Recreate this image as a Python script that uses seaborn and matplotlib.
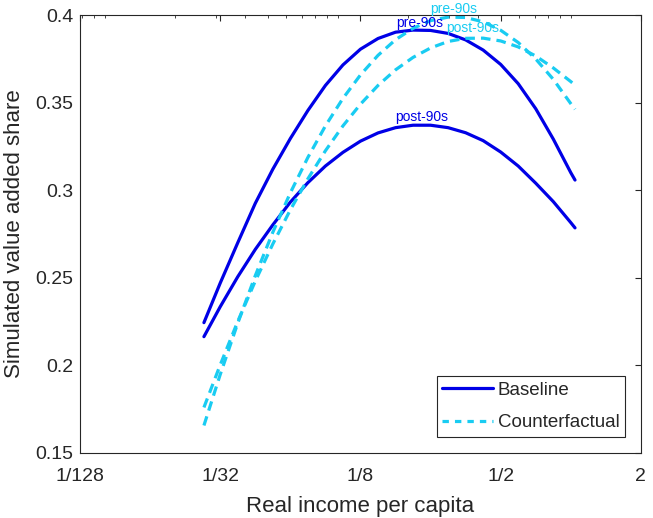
import numpy as np
import pandas as pd
import matplotlib
matplotlib.use("Agg")
import matplotlib.pyplot as plt
from matplotlib.ticker import LogLocator, NullFormatter, FixedLocator, FixedFormatter
from matplotlib.lines import Line2D
import seaborn as sns

# ---- data ----
income = [0.0266, 0.03125, 0.03716, 0.04419, 0.05256, 0.0625, 0.07433, 0.08839,
          0.1051, 0.125, 0.1487, 0.1768, 0.2102, 0.25, 0.2973, 0.3536,
          0.4204, 0.5, 0.5946, 0.7071, 0.8409, 1.0, 1.0425]
baseline_pre = [0.2244, 0.2470, 0.2700, 0.2925, 0.3120, 0.3295, 0.3455, 0.3598,
                0.3715, 0.3805, 0.3866, 0.3902, 0.3914, 0.3912, 0.3895, 0.3858,
                0.3800, 0.3718, 0.3608, 0.3465, 0.3292, 0.3100, 0.3058]
baseline_post = [0.2164, 0.2335, 0.2506, 0.2662, 0.2802, 0.2932, 0.3043, 0.3138,
                 0.3216, 0.3280, 0.3327, 0.3357, 0.3371, 0.3371, 0.3357, 0.3328,
                 0.3283, 0.3218, 0.3138, 0.3040, 0.2935, 0.2815, 0.2785]
counter_pre = [0.1657, 0.1948, 0.2241, 0.2512, 0.2760, 0.2985, 0.3187, 0.3367,
               0.3524, 0.3658, 0.3770, 0.3859, 0.3924, 0.3968, 0.3988, 0.3986,
               0.3961, 0.3913, 0.3843, 0.3749, 0.3633, 0.3494, 0.3462]
counter_post = [0.1760, 0.2003, 0.2251, 0.2481, 0.2693, 0.2888, 0.3065, 0.3225,
                0.3367, 0.3491, 0.3598, 0.3687, 0.3758, 0.3812, 0.3849, 0.3867,
                0.3868, 0.3852, 0.3818, 0.3766, 0.3698, 0.3620, 0.3600]

xtick_vals = [1/128, 1/32, 1/8, 1/2, 2]
xtick_labels = ["1/128", "1/32", "1/8", "1/2", "2"]
ytick_vals = [0.15, 0.2, 0.25, 0.3, 0.35, 0.4]
ytick_labels = ["0.15", "0.2", "0.25", "0.3", "0.35", "0.4"]

# curve labels: (text, x, y, scenario) -- centre of each label
annot_text = ["pre-90s", "post-90s", "pre-90s", "post-90s"]
annot_x = [0.2238, 0.2282, 0.3129, 0.3774]
annot_y = [0.3954, 0.3418, 0.4034, 0.3926]
annot_scn = ["Baseline", "Baseline", "Counterfactual", "Counterfactual"]

BLUE = "#0000E6"
CYAN = "#19CCF2"

rows = []
for scn, per, vals in [("Baseline", "pre", baseline_pre),
                       ("Baseline", "post", baseline_post),
                       ("Counterfactual", "pre", counter_pre),
                       ("Counterfactual", "post", counter_post)]:
    for x, y in zip(income, vals):
        rows.append({"income": x, "share": y, "scenario": scn, "period": per})
df = pd.DataFrame(rows)

sns.set_style("white")
plt.rcParams["font.family"] = ["Liberation Sans", "DejaVu Sans"]

fig = plt.figure(figsize=(6.53, 5.18), dpi=100)
ax = fig.add_axes([0.1225, 0.1255, 0.859, 0.8455])

dash = (0, (3.0, 1.9))
for (scn, per), sub in df.groupby(["scenario", "period"], sort=False):
    sns.lineplot(data=sub, x="income", y="share", ax=ax,
                 color=BLUE if scn == "Baseline" else CYAN,
                 lw=2.3, legend=False, estimator=None, sort=False)
    line = ax.get_lines()[-1]
    line.set_solid_joinstyle("round")
    if scn == "Counterfactual":
        line.set_linestyle(dash)
        line.set_dash_capstyle("butt")

for t, x, y, s in zip(annot_text, annot_x, annot_y, annot_scn):
    ax.text(x, y, t, color=BLUE if s == "Baseline" else CYAN,
            fontsize=10, ha="center", va="center", clip_on=False)

ax.set_xscale("log", base=2)
ax.set_xlim(1/128, 2)
ax.set_ylim(0.15, 0.4)
ax.xaxis.set_major_locator(FixedLocator(xtick_vals))
ax.xaxis.set_major_formatter(FixedFormatter(xtick_labels))
ax.xaxis.set_minor_locator(LogLocator(base=10, subs=np.arange(1, 10), numticks=50))
ax.xaxis.set_minor_formatter(NullFormatter())
ax.yaxis.set_major_locator(FixedLocator(ytick_vals))
ax.yaxis.set_major_formatter(FixedFormatter(ytick_labels))

dark = "#262626"
for sp in ax.spines.values():
    sp.set_visible(True)
    sp.set_color(dark)
    sp.set_linewidth(0.8)
ax.tick_params(which="both", direction="in", top=True, right=True,
               colors=dark, labelcolor=dark, labelsize=14)
ax.tick_params(which="major", length=4.6, width=0.8)
ax.tick_params(which="minor", length=2.4, width=0.6)
ax.tick_params(axis="x", which="major", pad=10.5)
ax.tick_params(axis="y", which="major", pad=5)

ax.set_xlabel("Real income per capita", fontsize=16, color=dark, labelpad=8)
ax.set_ylabel("Simulated value added share", fontsize=16, color=dark, labelpad=7)

handles = [Line2D([0], [0], color=BLUE, lw=2.3),
           Line2D([0], [0], color=CYAN, lw=2.3, linestyle=(0, (2.0, 1.9)))]
leg = ax.legend(handles, ["Baseline", "Counterfactual"], loc="lower right",
                fontsize=13.5, frameon=True, fancybox=False, edgecolor=dark,
                handlelength=2.7, handletextpad=0.25, borderaxespad=0.85,
                borderpad=0.3, labelspacing=0.82, framealpha=1)
leg.get_frame().set_linewidth(0.8)

fig.savefig("out.png", dpi=100)
